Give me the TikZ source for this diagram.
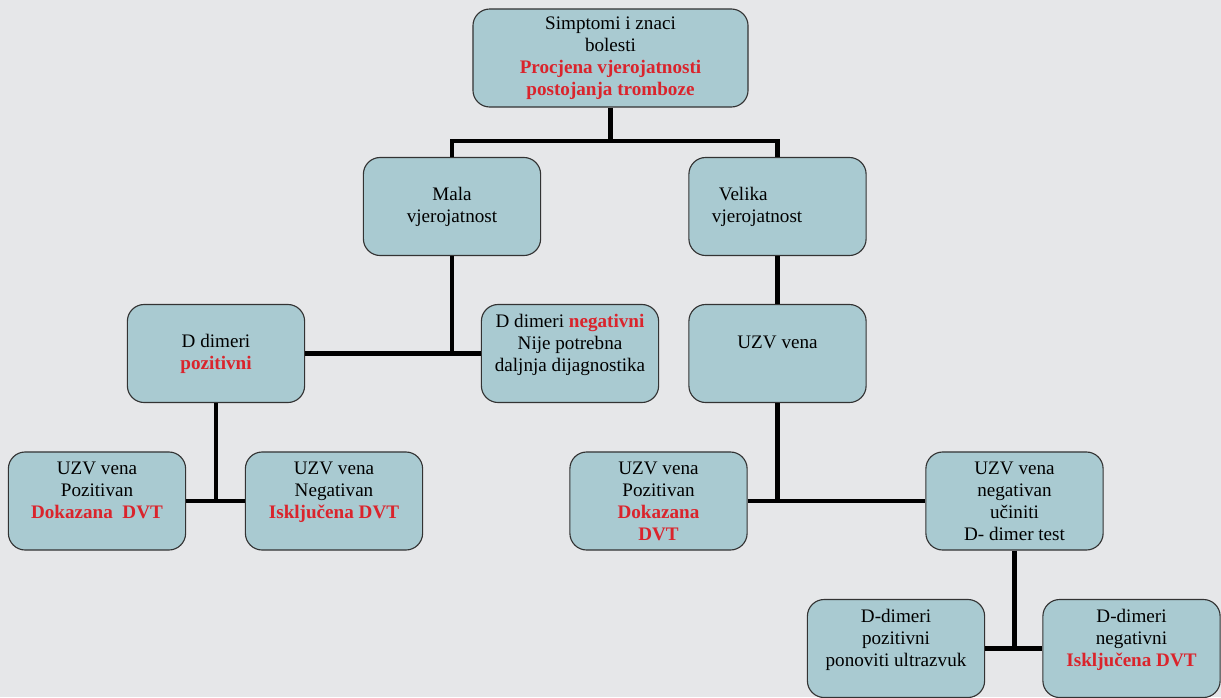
\documentclass[tikz,border=0pt]{standalone}
\usepackage{fontspec}
\setmainfont{Liberation Serif}
\usepackage{tikz}
\usetikzlibrary{positioning}

\definecolor{bgcol}{RGB}{230,231,233}
\definecolor{boxcol}{RGB}{169,202,209}
\definecolor{hired}{RGB}{218,36,44}
\newcommand{\redb}[1]{\textcolor{hired}{\textbf{#1}}}

\begin{document}
\begin{tikzpicture}[x=0.025cm,y=-0.025cm,
	box/.style={rectangle,rounded corners=0.42cm,draw=black!80,line width=0.8pt,fill=boxcol,
		minimum width=4.43cm,minimum height=2.45cm,align=center,
		font=\fontsize{13.6}{15.6}\selectfont},
	edge/.style={line width=3.3pt,black}]

		\useasboundingbox (0,0) rectangle (1221,697);
		\fill[bgcol] (0,0) rectangle (1221,697);

		%top node
		\node[box,minimum width=6.875cm] (top) at (610.5,58) {Simptomi i znaci\\bolesti\\\redb{Procjena vjerojatnosti}\\\redb{postojanja tromboze}};

		%second row
		\node[box] (mala) at (452,206.5) {Mala\\vjerojatnost};
		\node[box,align=left,text width=3.275cm] (velika) at (777.5,206.5) {\hspace*{0.17cm}Velika\\vjerojatnost};

		%third row
		\node[box] (dpoz) at (216,353.5) {D dimeri\\\redb{pozitivni}};
		\node[box] (dneg) at (570,353.5) {D dimeri \redb{negativni}\\Nije potrebna\\daljnja dijagnostika\\~};
		\node[box] (uzv) at (777.5,353.5) {UZV vena\\~};

		%fourth row
		\node[box] (uzvpoz) at (97,501) {UZV vena\\Pozitivan\\\redb{Dokazana\ \ DVT}\\~};
		\node[box] (uzvneg) at (334,501) {UZV vena\\Negativan\\\redb{Isključena DVT}\\~};
		\node[box] (dokaz) at (658.5,501) {UZV vena\\Pozitivan\\\redb{Dokazana}\\\redb{DVT}};
		\node[box] (uzvnegt) at (1014.5,501) {UZV vena\\negativan\\učiniti\\D- dimer test};

		%bottom row
		\node[box] (ddpoz) at (896,648.5) {D-dimeri\\pozitivni\\ponoviti ultrazvuk\\~};
		\node[box] (ddneg) at (1131.5,648.5) {D-dimeri\\negativni\\\redb{Isključena DVT}\\~};

		%edges
		\coordinate (split) at (610.5,141);
		\draw[edge] (top) -- (split);
		\draw[edge] (mala.north) -- (mala.north |- split) -| (velika.north);
		\draw[edge] (dpoz) -- (dneg);
		\draw[edge] (mala) -- (mala.south |- dpoz.east);
		\draw[edge] (uzvpoz) -- (uzvneg);
		\draw[edge] (dpoz) -- (dpoz.south |- uzvpoz.east);
		\draw[edge] (velika) -- (uzv);
		\draw[edge] (dokaz) -- (uzvnegt);
		\draw[edge] (uzv) -- (uzv.south |- dokaz.east);
		\draw[edge] (ddpoz) -- (ddneg);
		\draw[edge] (uzvnegt) -- (uzvnegt.south |- ddpoz.east);

\end{tikzpicture}
\end{document}
